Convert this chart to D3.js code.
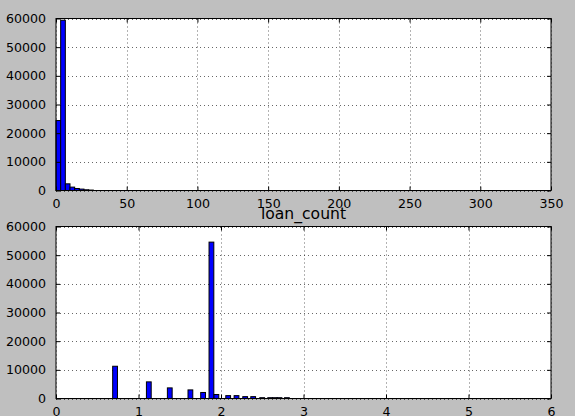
<!DOCTYPE html>
<html>
<head>
<meta charset="utf-8">
<script src="https://cdn.jsdelivr.net/npm/d3@7"></script>
<style>
  body { margin: 0; background: #bfbfbf; }
  svg { display: block; font-family: "DejaVu Sans", sans-serif; }
</style>
</head>
<body>
<div id="chart"></div>
<script>
// top histogram: bins start at 0, fixed width
var topBinWidth = 3.3;
var topCounts = [24400, 59400, 2330, 1180, 700, 490, 250, 150];
var topXTicks = [0, 50, 100, 150, 200, 250, 300, 350];

// bottom histogram (loan_count): bin left edges and counts
var loanBinWidth = 0.058;
var loanEdges = [0.687, 1.096, 1.35, 1.60, 1.754, 1.855, 1.915, 2.058, 2.159, 2.264, 2.361, 2.47, 2.567, 2.625, 2.68, 2.77];
var loanCounts = [11250, 5800, 3700, 3000, 2100, 54550, 1400, 1000, 1000, 650, 650, 280, 280, 280, 280, 280];
var loanXTicks = [0, 1, 2, 3, 4, 5, 6];

var yTicks = [0, 10000, 20000, 30000, 40000, 50000, 60000];

var W = 575, H = 416;
var svg = d3.select('#chart').append('svg')
    .attr('width', W)
    .attr('height', H);

var topBins = topCounts.map((c, i) => ({x0: i * topBinWidth, x1: (i + 1) * topBinWidth, count: c}));
var loanBins = loanCounts.map((c, i) => ({x0: loanEdges[i], x1: loanEdges[i] + loanBinWidth, count: c}));

drawPanel({left: 56, right: 551, top: 18.5, bottom: 190.5}, topBins, [0, 350], topXTicks, null);
drawPanel({left: 56, right: 551, top: 226.5, bottom: 398.5}, loanBins, [0, 6], loanXTicks, 'loan_count');

function drawPanel(box, bins, xDomain, xTicks, title) {
    var x = d3.scaleLinear().domain(xDomain).range([box.left, box.right]);
    var y = d3.scaleLinear().domain([0, 60000]).range([box.bottom, box.top]);
    var g = svg.append('g');

    g.append('rect')
        .attr('x', box.left).attr('y', box.top)
        .attr('width', box.right - box.left).attr('height', box.bottom - box.top)
        .attr('fill', '#fff');

    // dotted grid
    g.append('g').selectAll('line.vx')
        .data(xTicks)
        .enter().append('line')
        .attr('x1', d => Math.round(x(d)) + 0.5).attr('x2', d => Math.round(x(d)) + 0.5)
        .attr('y1', box.top).attr('y2', box.bottom)
        .attr('stroke', '#000').attr('stroke-width', 0.6)
        .attr('stroke-dasharray', '1,3');
    g.append('g').selectAll('line.hy')
        .data(yTicks)
        .enter().append('line')
        .attr('y1', d => Math.round(y(d)) + 0.5).attr('y2', d => Math.round(y(d)) + 0.5)
        .attr('x1', box.left).attr('x2', box.right)
        .attr('stroke', '#000').attr('stroke-width', 0.6)
        .attr('stroke-dasharray', '1,3');

    // bars
    g.append('g').selectAll('rect')
        .data(bins)
        .enter().append('rect')
        .attr('x', d => x(d.x0))
        .attr('y', d => y(d.count))
        .attr('width', d => x(d.x1) - x(d.x0))
        .attr('height', d => y(0) - y(d.count))
        .attr('fill', '#0000ff')
        .attr('stroke', '#000')
        .attr('stroke-width', 1);

    // axes with inward ticks
    var xAxis = d3.axisBottom(x).tickValues(xTicks).tickSize(-4).tickPadding(9).tickFormat(d3.format('d'));
    g.append('g')
        .attr('transform', `translate(0, ${box.bottom})`)
        .call(xAxis)
        .call(a => a.select('.domain').remove())
        .call(a => a.selectAll('text').attr('font-size', '12.6px').attr('fill', '#000').attr('font-family', '"DejaVu Sans", sans-serif'));
    g.append('g')
        .attr('transform', `translate(0, ${box.top})`)
        .call(d3.axisTop(x).tickValues(xTicks).tickSize(-4).tickFormat(''))
        .call(a => a.select('.domain').remove());

    var yAxis = d3.axisLeft(y).tickValues(yTicks).tickSize(-4).tickPadding(10).tickFormat(d3.format('d'));
    g.append('g')
        .attr('transform', `translate(${box.left}, 0)`)
        .call(yAxis)
        .call(a => a.select('.domain').remove())
        .call(a => a.selectAll('text').attr('font-size', '12.6px').attr('fill', '#000').attr('font-family', '"DejaVu Sans", sans-serif'));
    g.append('g')
        .attr('transform', `translate(${box.right}, 0)`)
        .call(d3.axisRight(y).tickValues(yTicks).tickSize(-4).tickFormat(''))
        .call(a => a.select('.domain').remove());

    // frame
    g.append('rect')
        .attr('x', box.left).attr('y', box.top)
        .attr('width', box.right - box.left).attr('height', box.bottom - box.top)
        .attr('fill', 'none').attr('stroke', '#000').attr('stroke-width', 1);

    if (title) {
        g.append('text')
            .attr('x', (box.left + box.right) / 2)
            .attr('y', box.top - 7.5)
            .attr('text-anchor', 'middle')
            .attr('font-size', '15.6px')
            .attr('fill', '#000')
            .text(title);
    }
}
</script>
</body>
</html>
